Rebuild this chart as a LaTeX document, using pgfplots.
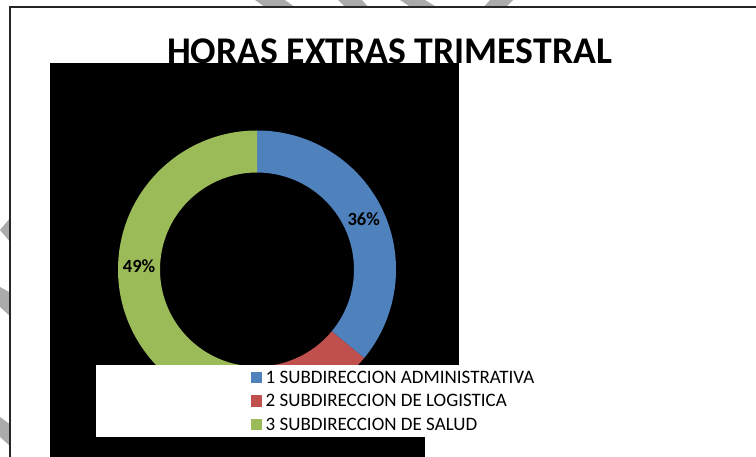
\documentclass[border=0pt]{standalone}
\usepackage{pgfplots}
\pgfplotsset{compat=1.18}
\usepackage{pgfplotstable}
\usepackage{fontspec}
\setmainfont{Carlito}
\definecolor{cblue}{HTML}{4F81BD}
\definecolor{cred}{HTML}{C0504D}
\definecolor{cgreen}{HTML}{9BBB59}
\definecolor{wm}{HTML}{ABABAB}
\newcommand\titlefont{\fontsize{37.7bp}{40bp}\selectfont\bfseries}
\newcommand\labfont{\fontsize{18.6bp}{20bp}\selectfont\bfseries}
\newcommand\legfont{\fontsize{19bp}{20bp}\selectfont}

\pgfplotstableread[col sep=comma]{
label,value
1 SUBDIRECCION ADMINISTRATIVA,36
2 SUBDIRECCION DE LOGISTICA,15
3 SUBDIRECCION DE SALUD,49
}\datatable

% annular sector: #1 colour, #2 start angle, #3 end angle, #4 value, #5 show label (1/0)
\newcommand\sector[5]{%
  \pgfmathsetmacro\sXo{257+139*cos(#2)}%
  \pgfmathsetmacro\sYo{187.5+139*sin(#2)}%
  \pgfmathsetmacro\sXi{257+97*cos(#3)}%
  \pgfmathsetmacro\sYi{187.5+97*sin(#3)}%
  \pgfmathsetmacro\sAm{(#2+#3)/2}%
  \pgfmathsetmacro\sXl{257+118*cos(\sAm)}%
  \pgfmathsetmacro\sYl{187.5+118*sin(\sAm)}%
  \edef\tmp{%
    \noexpand\fill[#1] (axis cs:\sXo,\sYo) arc[start angle=#2,end angle=#3,radius=139bp]
      -- (axis cs:\sXi,\sYi) arc[start angle=#3,end angle=#2,radius=97bp] -- cycle;
  }\tmp
  \ifnum#5=1
  \edef\tmp{%
    \noexpand\node[font=\noexpand\labfont,inner sep=0pt,text=black] at (axis cs:\sXl,\sYl) {#4\noexpand\%};%
  }\tmp
  \fi}

\begin{document}%
\begin{tikzpicture}
\pgfplotstablegetelem{0}{value}\of\datatable\edef\vA{\pgfplotsretval}
\pgfplotstablegetelem{1}{value}\of\datatable\edef\vB{\pgfplotsretval}
\pgfplotstablegetelem{2}{value}\of\datatable\edef\vC{\pgfplotsretval}
\pgfplotstablegetelem{0}{label}\of\datatable\edef\lA{\pgfplotsretval}
\pgfplotstablegetelem{1}{label}\of\datatable\edef\lB{\pgfplotsretval}
\pgfplotstablegetelem{2}{label}\of\datatable\edef\lC{\pgfplotsretval}
\pgfmathsetmacro\aA{90}
\pgfmathsetmacro\aB{\aA-3.6*\vA}
\pgfmathsetmacro\aC{\aB-3.6*\vB}
\pgfmathsetmacro\aD{\aC-3.6*\vC}
\begin{axis}[
  at={(0,0)}, anchor=south west,
  width=756bp, height=457bp, scale only axis,
  xmin=0, xmax=756, ymin=0, ymax=457,
  enlargelimits=false, hide axis, clip=false]
  % background
  \fill[white] (axis cs:0,0) rectangle (axis cs:756,457);
  % watermark fragments in margins
  \fill[wm] (axis cs:255,457) -- (axis cs:285,457) -- (axis cs:296,449) -- (axis cs:266,449) -- cycle;
  \fill[wm] (axis cs:338,457) -- (axis cs:362,457) -- (axis cs:369,449) -- (axis cs:346,449) -- cycle;
  \fill[wm] (axis cs:400,457) -- (axis cs:425,457) -- (axis cs:438,449) -- (axis cs:412,449) -- cycle;
  \fill[wm] (axis cs:490,457) -- (axis cs:513,457) -- (axis cs:505,449) -- (axis cs:483,449) -- cycle;
  \fill[wm] (axis cs:0,227) -- (axis cs:11,240) -- (axis cs:11,214) -- cycle;
  \fill[wm] (axis cs:0,170) -- (axis cs:11,164) -- (axis cs:11,140) -- (axis cs:0,150) -- cycle;
  \fill[wm] (axis cs:0,40) -- (axis cs:11,32) -- (axis cs:11,10) -- (axis cs:0,20) -- cycle;
  % chart area
  \fill[white] (axis cs:10,0) rectangle (axis cs:756,450);
  \draw[black!85, line width=1.5bp] (axis cs:10,0) -- (axis cs:10,450) -- (axis cs:756,450);
  % title
  \node[anchor=base, inner sep=0pt, font=\titlefont] at (axis cs:389.5,393.7) {HORAS EXTRAS TRIMESTRAL};
  % black plot-area artefacts
  \fill[black] (axis cs:50,92) rectangle (axis cs:459,394);
  \fill[black] (axis cs:50,0) rectangle (axis cs:425,92);
  % donut
  \sector{cblue}{\aA}{\aB}{\vA}{1}
  \sector{cred}{\aB}{\aC}{\vB}{0}
  \sector{cgreen}{\aC}{\aD}{\vC}{1}
  % legend box
  \fill[white] (axis cs:96,20) rectangle (axis cs:425,92);
  \fill[cblue] (axis cs:251,73.7) rectangle (axis cs:262,85.3);
  \fill[cred] (axis cs:251,50.3) rectangle (axis cs:262,61.9);
  \fill[cgreen] (axis cs:251,26.7) rectangle (axis cs:262,38.3);
  \node[anchor=base west, inner sep=0pt, font=\legfont] at (axis cs:265.5,73.7) {\lA};
  \node[anchor=base west, inner sep=0pt, font=\legfont] at (axis cs:265.5,50.3) {\lB};
  \node[anchor=base west, inner sep=0pt, font=\legfont] at (axis cs:265.5,26.7) {\lC};
\end{axis}
\pgfresetboundingbox
\useasboundingbox (0,0) rectangle (756bp,457bp);
\end{tikzpicture}%
\end{document}
